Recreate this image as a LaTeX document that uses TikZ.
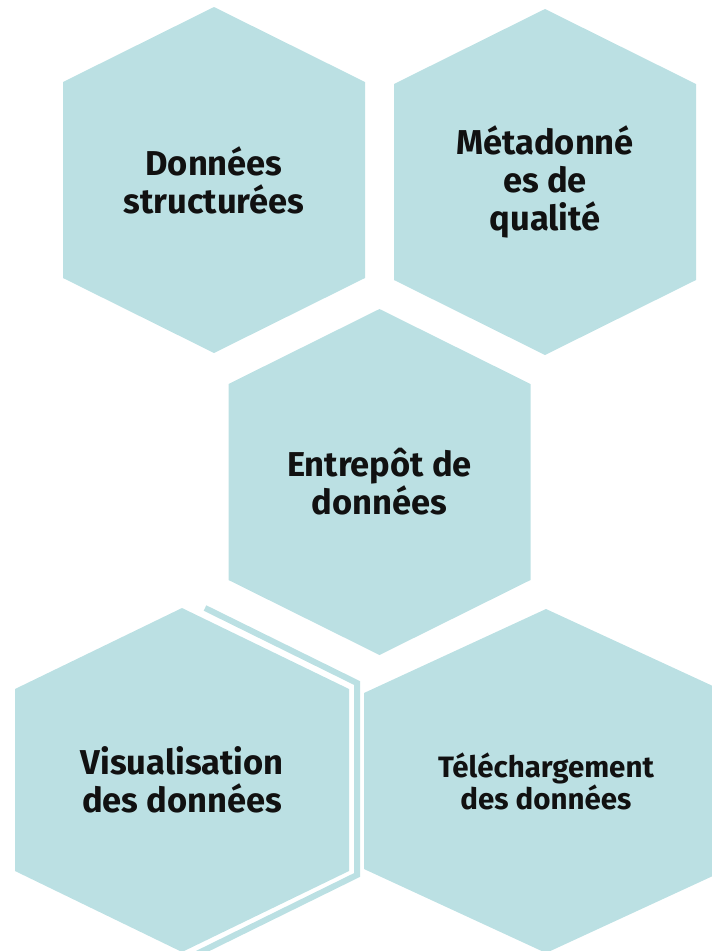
\documentclass[tikz,border=0pt]{standalone}
\usepackage{fontspec}
\setmainfont{Fira Sans}
\usetikzlibrary{backgrounds}

\definecolor{hexfill}{RGB}{187,224,227}
\definecolor{hextext}{RGB}{17,17,17}

\tikzset{
  hexagon/.style n args={3}{insert path={++(0,#3) -- ++(#1,{-(#3-#2)}) -- ++(0,{-2*#2})
      -- ++({-#1},{-(#3-#2)}) -- ++({-#1},{#3-#2}) -- ++(0,{2*#2}) -- cycle}},
  bigtext/.style={font=\fontsize{34.5}{38}\selectfont\bfseries},
  smalltext/.style={font=\fontsize{29.5}{32}\selectfont\bfseries}
}

\begin{document}
\begin{tikzpicture}[x=1pt,y=1pt]

        \useasboundingbox (0,0) rectangle (712,-951);
        \clip (0,0) rectangle (712,-951);

        \begin{scope}[every node/.style={align=center, text=hextext, inner sep=0pt}]
          \node[bigtext]   (struct) at (214,-180)   {Données\\structurées};
          \node[bigtext]   (meta)   at (545,-182)   {Métadonné\\es de\\qualité};
          \node[bigtext]   (entre)  at (379.5,-482) {Entrepôt de\\données};
          \node[bigtext]   (visu)   at (182,-780)   {Visualisation\\des données};
          \node[smalltext] (telech) at (546,-781)   {Téléchargement\\des données};
        \end{scope}

        \begin{scope}[on background layer, every path/.style={fill=hexfill}]
          \path (struct.center) [hexagon={151}{98}{173}];
          \path (meta.center)   [hexagon={151}{98}{173}];
          \path (entre.center)  [hexagon={151}{98}{173}];
          \path (visu.center)   [hexagon={167}{91}{172}];
          \path (telech.center) [hexagon={182}{88}{172}];

          % stripe along the right side of the bottom-left hexagon
          \draw[hexfill, line width=6pt, fill=none]
            (205,-608) -- (357,-683) -- (357,-875) -- (160,-972);
        \end{scope}

      \end{tikzpicture}
\end{document}
